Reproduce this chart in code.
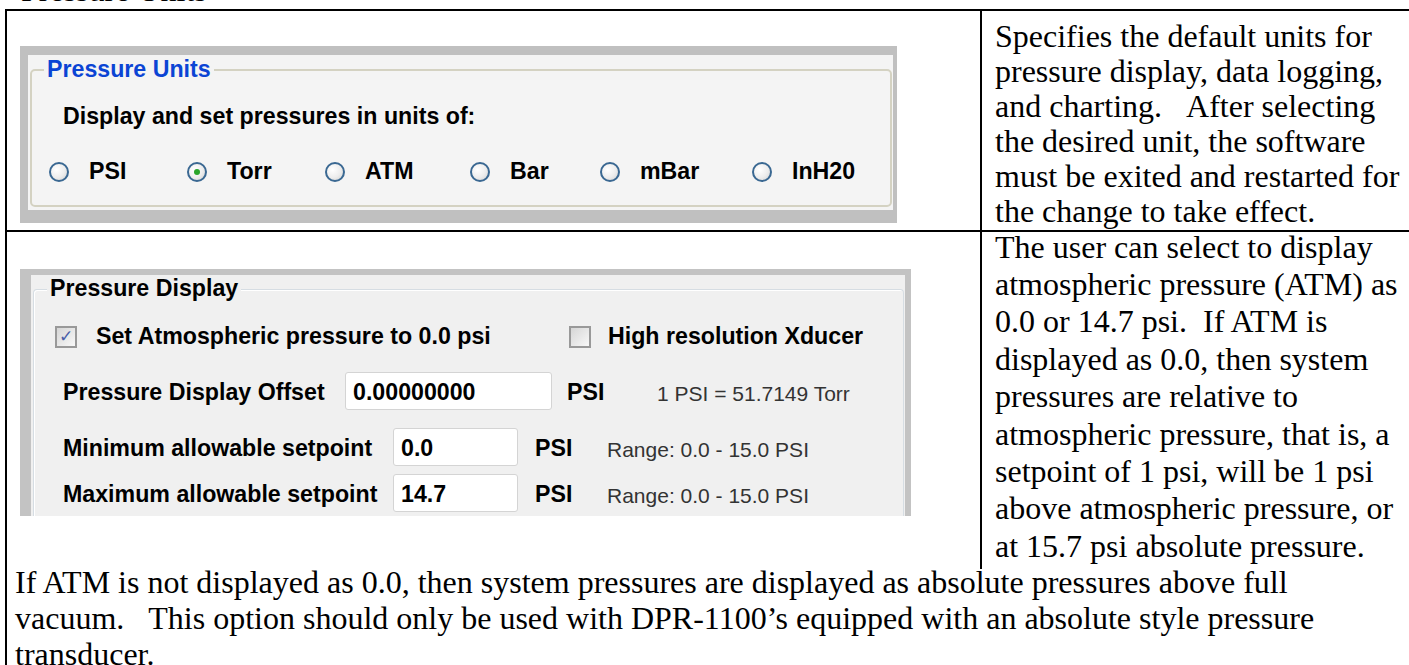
<!DOCTYPE html>
<html>
<head>
    <title>Pressure Units</title>
    <script src="https://cdn.jsdelivr.net/npm/chart.js"></script>
    <style>
        body {
            margin: 0;
            width: 1409px;
            height: 665px;
            overflow: hidden;
            background: #fff;
            position: relative;
        }
        .abs { position: absolute; white-space: nowrap; }
        .serif {
            font-family: "Liberation Serif", "Times New Roman", serif;
            font-size: 32px;
            line-height: 36px;
            color: #000;
        }
        .ui {
            font-family: "Liberation Sans", Arial, sans-serif;
            font-weight: bold;
            font-size: 23.2px;
            line-height: 1;
            color: #000;
        }
        .uiReg {
            font-family: "Liberation Sans", Arial, sans-serif;
            font-size: 21px;
            line-height: 1;
            color: #333;
        }
        .radio {
            position: absolute;
            width: 20px; height: 20px;
            border-radius: 50%;
            border: 2px solid #3a6892;
            box-sizing: border-box;
            background: radial-gradient(circle at 35% 35%, #ffffff 0%, #ededed 55%, #cfcfcf 100%);
        }
        .radio.on::after {
            content: '';
            position: absolute;
            left: 50%; top: 50%;
            width: 6px; height: 6px;
            margin: -3px 0 0 -3px;
            border-radius: 50%;
            background: #2aa52a;
        }
        .check {
            position: absolute;
            width: 22px; height: 22px;
            border: 2px solid #999;
            box-sizing: border-box;
            background: linear-gradient(135deg, #d6d6d6, #f8f8f8);
        }
        .check span {
            position: absolute;
            left: 2px; top: -2px;
            font: bold 17px "DejaVu Sans", sans-serif;
            color: #4a5fa8;
        }
        .box {
            position: absolute;
            background: #fff;
            border: 1px solid #d4d4d4;
            border-radius: 3px;
            box-sizing: border-box;
        }
    </style>
</head>
<body>
<script>
    // 文本数据
    const headingText = 'Pressure Units';
    const unitOptions = ['PSI', 'Torr', 'ATM', 'Bar', 'mBar', 'InH20'];
    const selectedUnit = 'Torr';
    const unitsPrompt = 'Display and set pressures in units of:';
    const displayChecks = ['Set Atmospheric pressure to 0.0 psi', 'High resolution Xducer'];
    const displayChecked = [true, false];
    const displayFields = ['Pressure Display Offset', 'Minimum allowable setpoint', 'Maximum allowable setpoint'];
    const displayValues = ['0.00000000', '0.0', '14.7'];
    const displayUnits = ['PSI', 'PSI', 'PSI'];
    const displayNotes = ['1 PSI = 51.7149 Torr', 'Range: 0.0 - 15.0 PSI', 'Range: 0.0 - 15.0 PSI'];
    const unitsDescription = [
        'Specifies the default units for',
        'pressure display, data logging,',
        'and charting. \u00a0\u00a0After selecting',
        'the desired unit, the software',
        'must be exited and restarted for',
        'the change to take effect.'
    ];
    const displayDescription = [
        'The user can select to display',
        'atmospheric pressure (ATM) as',
        '0.0 or 14.7 psi. \u00a0If ATM is',
        'displayed as 0.0, then system',
        'pressures are relative to',
        'atmospheric pressure, that is, a',
        'setpoint of 1 psi, will be 1 psi',
        'above atmospheric pressure, or',
        'at 15.7 psi absolute pressure.'
    ];
    const footnote = [
        'If ATM is not displayed as 0.0, then system pressures are displayed as absolute pressures above full',
        'vacuum. \u00a0\u00a0This option should only be used with DPR-1100\u2019s equipped with an absolute style pressure',
        'transducer.'
    ];

    const body = document.body;

    function rect(x, y, w, h, css) {
        const d = document.createElement('div');
        d.style.position = 'absolute';
        d.style.left = x + 'px';
        d.style.top = y + 'px';
        d.style.width = w + 'px';
        d.style.height = h + 'px';
        Object.assign(d.style, css || {});
        body.appendChild(d);
        return d;
    }

    // 按基线放置文字
    function text(str, x, baseline, cls, extra) {
        const s = document.createElement('div');
        s.className = 'abs ' + cls;
        s.textContent = str;
        const size = cls === 'uiReg' ? 21 : 23.2;
        s.style.left = x + 'px';
        s.style.top = (baseline - 0.8465 * size) + 'px';
        Object.assign(s.style, extra || {});
        body.appendChild(s);
        return s;
    }

    function paragraph(lines, x, top, lh) {
        const p = document.createElement('div');
        p.className = 'abs serif';
        p.style.left = x + 'px';
        p.style.top = top + 'px';
        if (lh) p.style.lineHeight = lh + 'px';
        p.innerHTML = lines.join('<br>');
        body.appendChild(p);
    }

    // 标题（只露出下边一点）
    paragraph([headingText], 21, -28);

    // 表格线
    rect(5, 9, 1404, 2, { background: '#000' });
    rect(5, 9, 2, 656, { background: '#000' });
    rect(980, 9, 2, 560, { background: '#000' });
    rect(5, 230, 1404, 2, { background: '#000' });

    // ---- 面板一：Pressure Units ----
    rect(20, 46, 877, 177, { background: '#c0c0c0' });
    rect(28, 55, 865, 155, { background: '#f4f4f4' });
    rect(30, 69, 862, 138, { border: '2px solid #d4d2c2', borderRadius: '5px', boxSizing: 'border-box' });
    text('Pressure Units', 44, 78, 'ui', { color: '#0b44d4', background: '#f4f4f4', padding: '0 3px' });
    text(unitsPrompt, 63, 125, 'ui');

    const radioLeft = [49, 187, 325, 470, 600, 752];
    unitOptions.forEach((u, i) => {
        const r = rect(radioLeft[i], 162, 20, 20);
        r.className = 'radio' + (u === selectedUnit ? ' on' : '');
        text(u, radioLeft[i] + 40, 180, 'ui');
    });

    // ---- 面板二：Pressure Display ----
    rect(20, 269, 891, 247, { background: '#c3c3c3' });
    rect(31, 275, 874, 241, { background: '#f0f0f0' });
    rect(33, 289, 871, 240, { borderTop: '1px solid #d6dde3', borderLeft: '1px solid #d6dde3', borderRight: '1px solid #d6dde3', borderRadius: '4px 4px 0 0', boxSizing: 'border-box', boxShadow: 'inset 1px 1px 0 #fff' });
    rect(20, 516, 891, 20, { background: '#fff' });
    text('Pressure Display', 47, 297, 'ui', { background: '#f0f0f0', padding: '0 3px' });

    const checkLeft = [55, 569];
    const labelLeft = [96, 608];
    displayChecks.forEach((c, i) => {
        const b = rect(checkLeft[i], 326, 22, 22);
        b.className = 'check';
        if (displayChecked[i]) b.innerHTML = '<span>\u2713</span>';
        text(c, labelLeft[i], 345, 'ui');
    });

    const rowBase = [401, 457, 503];
    const boxLeft = [345, 393, 393];
    const boxRight = [552, 518, 518];
    const unitLeft = [567, 535, 535];
    const noteLeft = [657, 607, 607];
    displayFields.forEach((f, i) => {
        text(f, 63, rowBase[i], 'ui');
        const bx = rect(boxLeft[i], rowBase[i] - 29, boxRight[i] - boxLeft[i], 38);
        bx.className = 'box';
        text(displayValues[i], boxLeft[i] + 8, rowBase[i], 'ui');
        text(displayUnits[i], unitLeft[i], rowBase[i], 'ui');
        text(displayNotes[i], noteLeft[i], rowBase[i], 'uiReg');
    });

    // 右侧说明文字
    paragraph(unitsDescription, 995, 18.7, 35);
    paragraph(displayDescription, 995, 228.5, 37.4);
    paragraph(footnote, 15, 564.2, 36);
</script>
</body>
</html>
